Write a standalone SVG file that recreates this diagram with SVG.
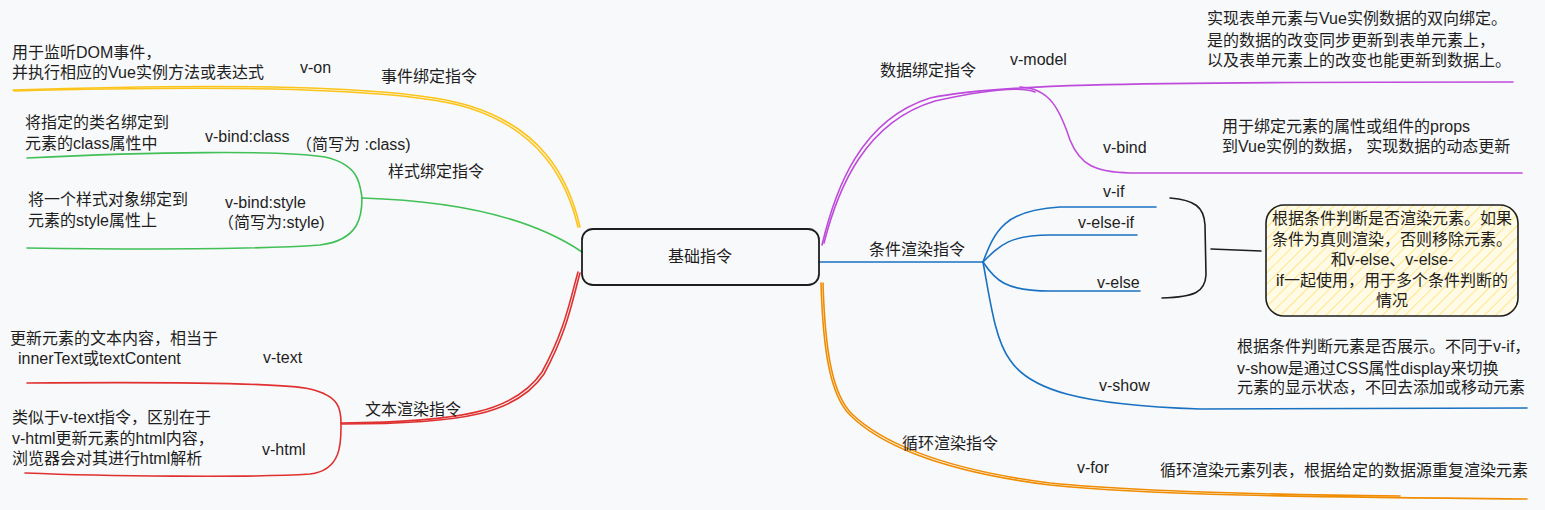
<svg xmlns="http://www.w3.org/2000/svg" width="1545" height="510" viewBox="0 0 1545 510">
<defs>
<style>
text{font-family:"Liberation Sans","Noto Sans CJK SC",sans-serif;font-size:16px;fill:#1e1e1e}
.c{text-anchor:middle}
.ln{fill:none;stroke-width:1.6;stroke-linecap:round}
.y{stroke:#fcc419}.g{stroke:#40c057}.r{stroke:#e03131}.p{stroke:#be4bdb}.b{stroke:#1971c2}.o{stroke:#f08c00}.k{stroke:#1e1e1e}
</style>
<pattern id="hatch" width="8" height="8" patternUnits="userSpaceOnUse" patternTransform="rotate(45)">
<rect width="8" height="8" fill="#fffbe6"/>
<line x1="0" y1="0" x2="0" y2="8" stroke="#ffe58a" stroke-width="2"/>
</pattern>
</defs>
<rect width="1545" height="510" fill="#f8f9fa"/>
<g id="connectors">
<path class="ln y" d="M13 90 C200 84 400 84 470 106 C540 128 568 175 580 227"/>
<path class="ln y" d="M14 91 C200 86 400 86 469 108 C538 130 566 177 578 227" stroke-width="0.8"/>
<path class="ln g" d="M27 158 C150 152 280 150 325 157 C360 165 360 185 362 198"/>
<path class="ln g" d="M362 198 C362 215 360 240 320 245 C250 250 100 249 27 248"/>
<path class="ln g" d="M362 198 C430 200 520 210 582 252"/>
<path class="ln r" d="M27 383 C150 382 280 382 310 389 C340 396 341 410 341 423"/>
<path class="ln r" d="M341 423 C341 440 343 470 310 474 C250 478 100 476 25 473"/>
<path class="ln r" d="M341 423 C460 422 515 412 542 372 C565 330 570 300 578 272"/>
<path class="ln r" d="M342 424 C462 424 517 414 544 374 C567 332 572 302 580 273" stroke-width="0.8"/>
<path class="ln p" d="M822 245 C835 190 860 120 930 98 C990 85 1100 82 1513 82"/>
<path class="ln p" d="M824 243 C838 188 865 122 935 101 C985 90 1020 86 1035 92" stroke-width="1"/>
<path class="ln p" d="M1020 87 C1050 88 1060 110 1070 140 C1080 165 1095 172 1130 173 L1522 173"/>
<path class="ln b" d="M819 262 L983 262"/>
<path class="ln b" d="M983 262 C995 230 1005 210 1060 207 L1156 207"/>
<path class="ln b" d="M983 262 C1000 245 1010 235 1050 235 L1137 235"/>
<path class="ln b" d="M983 262 C995 280 1005 291 1050 291 L1140 291"/>
<path class="ln b" d="M983 262 C990 300 995 340 1010 360 C1030 390 1080 405 1200 409 L1527 408"/>
<path class="ln o" d="M821 283 C823 350 830 395 850 415 C875 440 930 470 1050 485 C1150 495 1300 497 1527 499"/>
<path class="ln o" d="M823 283 C825 350 832 394 852 414 C877 438 932 468 1050 483 C1150 493 1300 495 1400 496" stroke-width="0.8"/>
<path class="ln k" d="M1170 198 C1195 200 1204 207 1205 225 L1206 275 C1205 292 1195 297 1162 298"/>
<path class="ln k" d="M1211 249 L1261 251"/>
</g>
<g id="root">
<rect x="582" y="229" width="237" height="56" rx="11" fill="none" stroke="#1e1e1e" stroke-width="1.8"/>
<text class="c" x="700" y="262">基础指令</text>
</g>
<g id="event">
<text x="381" y="82">事件绑定指令</text>
<text x="300" y="73">v-on</text>
<text x="12" y="58">用于监听DOM事件，</text>
<text x="12" y="78">并执行相应的Vue实例方法或表达式</text>
</g>
<g id="style-bind">
<text x="388" y="177">样式绑定指令</text>
<text x="205" y="142">v-bind:class</text>
<text x="296" y="150">（简写为 :class)</text>
<text x="25" y="128">将指定的类名绑定到</text>
<text x="25" y="149">元素的class属性中</text>
<text x="225" y="208">v-bind:style</text>
<text x="218" y="228">（简写为:style)</text>
<text x="28" y="205">将一个样式对象绑定到</text>
<text x="28" y="226">元素的style属性上</text>
</g>
<g id="text-render">
<text x="365" y="415">文本渲染指令</text>
<text x="263" y="363">v-text</text>
<text x="10" y="344">更新元素的文本内容，相当于</text>
<text x="18" y="364">innerText或textContent</text>
<text x="262" y="455">v-html</text>
<text x="12" y="423">类似于v-text指令，区别在于</text>
<text x="12" y="444">v-html更新元素的html内容，</text>
<text x="12" y="464">浏览器会对其进行html解析</text>
</g>
<g id="data-bind">
<text x="880" y="76">数据绑定指令</text>
<text x="1010" y="65">v-model</text>
<text x="1207" y="24">实现表单元素与Vue实例数据的双向绑定。</text>
<text x="1207" y="46">是的数据的改变同步更新到表单元素上，</text>
<text x="1207" y="66">以及表单元素上的改变也能更新到数据上。</text>
<text x="1103" y="153">v-bind</text>
<text x="1222" y="132">用于绑定元素的属性或组件的props</text>
<text x="1222" y="152">到Vue实例的数据， 实现数据的动态更新</text>
</g>
<g id="cond-render">
<text x="869" y="255">条件渲染指令</text>
<text x="1103" y="197">v-if</text>
<text x="1078" y="228">v-else-if</text>
<text x="1097" y="288">v-else</text>
<text x="1099" y="391">v-show</text>
<text x="1237" y="352">根据条件判断元素是否展示。不同于v-if，</text>
<text x="1237" y="374">v-show是通过CSS属性display来切换</text>
<text x="1237" y="393">元素的显示状态，不回去添加或移动元素</text>
</g>
<g id="cond-note">
<rect x="1266" y="205" width="252" height="111" rx="18" fill="url(#hatch)" stroke="#1e1e1e" stroke-width="1.6"/>
<text class="c" x="1392" y="224">根据条件判断是否渲染元素。如果</text>
<text class="c" x="1392" y="245">条件为真则渲染，否则移除元素。</text>
<text class="c" x="1392" y="265">和v-else、v-else-</text>
<text class="c" x="1392" y="286">if一起使用，用于多个条件判断的</text>
<text class="c" x="1392" y="306">情况</text>
</g>
<g id="loop-render">
<text x="902" y="449">循环渲染指令</text>
<text x="1077" y="473">v-for</text>
<text x="1160" y="476">循环渲染元素列表，根据给定的数据源重复渲染元素</text>
</g>
</svg>
